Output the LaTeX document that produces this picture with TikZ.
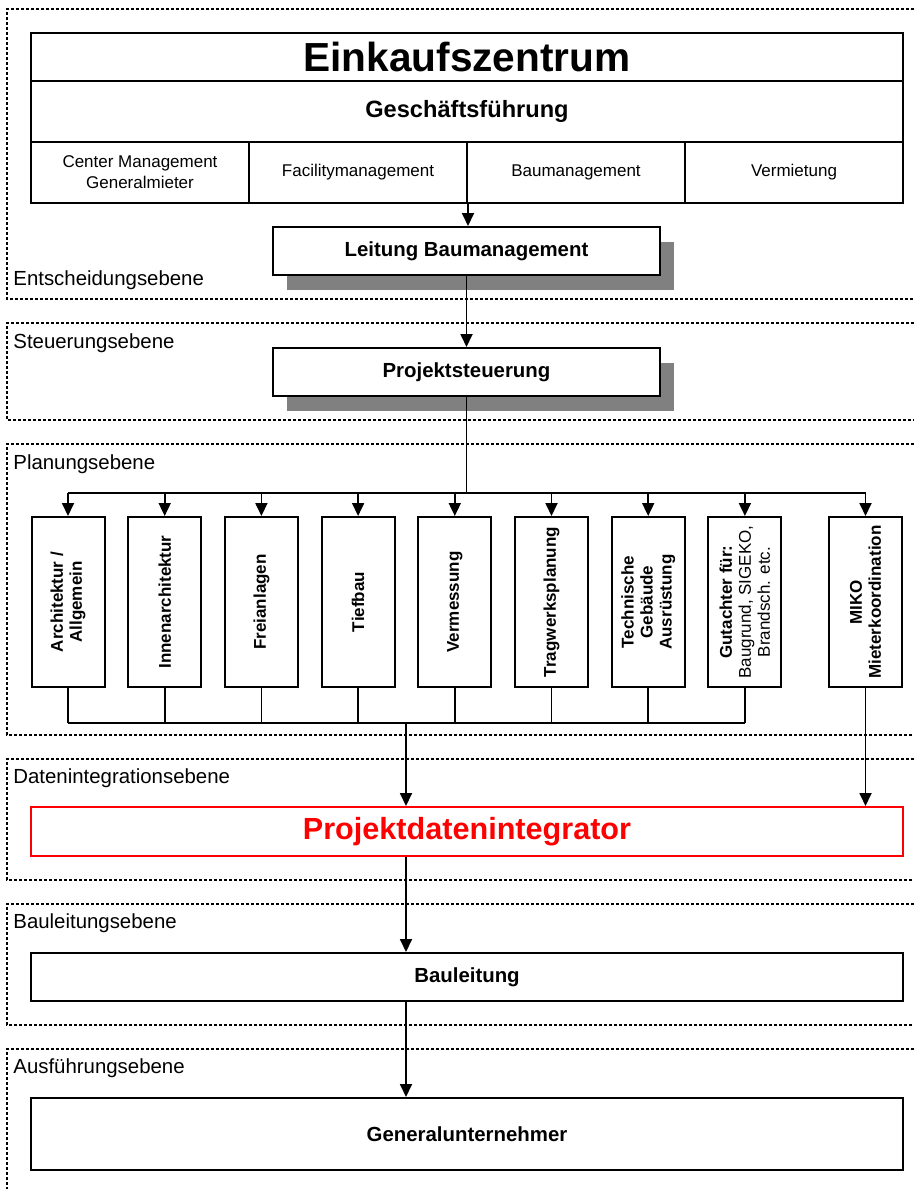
\documentclass[tikz,border=0pt]{standalone}
\usepackage{fontspec}
\setmainfont{Liberation Sans}
\usetikzlibrary{arrows.meta,shadows}

\begin{document}
\begin{tikzpicture}[x=0.5pt,y=-0.5pt,
  box/.style={draw,line width=1pt,fill=white,inner sep=0pt,align=center},
  cell/.style={box,minimum width=109pt,minimum height=30.5pt,font=\fontsize{8.5}{10.5}\selectfont},
  wide/.style={box,minimum width=436pt},
  shade/.style={drop shadow={shadow xshift=7pt,shadow yshift=-7.5pt,fill=black!50,opacity=1}},
  mgmt/.style={box,shade,minimum width=193.5pt,minimum height=24pt,font=\bfseries\fontsize{10.2}{12}\selectfont},
  plan/.style={box,rotate=90,minimum width=85pt,minimum height=36.5pt,font=\bfseries\fontsize{8.5}{9.5}\selectfont},
  conn/.style={line width=0.9pt},
  arr/.style={conn,-{Triangle[length=6.5pt,width=6pt]}},
  level/.style={line width=0.6pt,dash pattern=on 1.5pt off 1pt},
  levelname/.style={anchor=west,inner sep=0pt,font=\fontsize{10.2}{12}\selectfont}]
\useasboundingbox (0,0) rectangle (914,1189);
% ebenen
\foreach \a/\b in {9/299,323/420,444/735,759/880,904/1025}
  \draw[level] (914,\a) -- (7,\a) -- (7,\b) -- (914,\b);
\draw[level] (914,1049) -- (7,1049) -- (7,1189);
\node[levelname] (e1) at (13,280) {Entscheidungsebene};
\node[levelname] (e2) at (13,343) {Steuerungsebene};
\node[levelname] (e3) at (13,464) {Planungsebene};
\node[levelname] (e4) at (13,778) {Datenintegrationsebene};
\node[levelname] (e5) at (13,923) {Bauleitungsebene};
\node[levelname] (e6) at (13,1068) {Ausführungsebene};
% einkaufszentrum
\node[wide,minimum height=24pt,font=\bfseries\fontsize{20.3}{24}\selectfont] (ez) at (467,57) {Einkaufszentrum};
\node[wide,minimum height=30.5pt,font=\bfseries\fontsize{11.8}{14}\selectfont] (gf) at (467,111.5) {Geschäftsführung};
\foreach \t [count=\i] in {{Center Management\\Generalmieter},Facilitymanagement,Baumanagement,Vermietung}
  \node[cell] (c\i) at ({140+218*(\i-1)},172.5) {\t};
\node[mgmt] (lb) at (466.5,251) {Leitung Baumanagement};
\node[mgmt] (ps) at (466.5,372) {Projektsteuerung};
\draw[arr] (c2.south east) -- (c2.south east |- lb.north);
\draw[arr] (lb.south) -- (ps.north);
% planung
\coordinate (top) at (0,493); \coordinate (bot) at (0,723); \coordinate (mid) at (406,723);
\foreach \t [count=\i] in {{Architektur /\\Allgemein},Innenarchitektur,Freianlagen,Tiefbau,Vermessung,Tragwerksplanung,%
    {Technische\\Gebäude\\Ausrüstung},{Gutachter für:\\\mdseries Baugrund, SIGEKO,\\\mdseries Brandsch. etc.}}{
  \node[plan] (p\i) at ({68+96.7*(\i-1)},602) {\t};
  \draw[arr] (p\i.east |- top) -- (p\i.east);
  \draw[conn] (p\i.west) -- (p\i.west |- bot);
}
\node[plan] (mk) at (865.5,602) {MIKO\\Mieterkoordination};
\draw[arr] (mk.east |- top) -- (mk.east);
\draw[conn] (ps.south) -- (ps.south |- top);
\draw[conn] (p1.east |- top) -- (mk.east |- top);
\draw[conn] (p1.west |- bot) -- (p8.west |- bot);
% integration und ausfuehrung
\node[wide,draw=red,text=red,minimum height=24.5pt,font=\bfseries\fontsize{15.3}{18}\selectfont] (pdi) at (467,831.5) {Projektdatenintegrator};
\node[wide,minimum height=24pt,font=\bfseries\fontsize{10.2}{12}\selectfont] (bl) at (467,977) {Bauleitung};
\node[wide,minimum height=36pt,font=\bfseries\fontsize{10.2}{12}\selectfont] (gu) at (467,1134) {Generalunternehmer};
\draw[arr] (mid) -- (mid |- pdi.north);
\draw[arr] (mk.west) -- (mk.west |- pdi.north);
\draw[arr] (mid |- pdi.south) -- (mid |- bl.north);
\draw[arr] (mid |- bl.south) -- (mid |- gu.north);
\end{tikzpicture}
\end{document}
